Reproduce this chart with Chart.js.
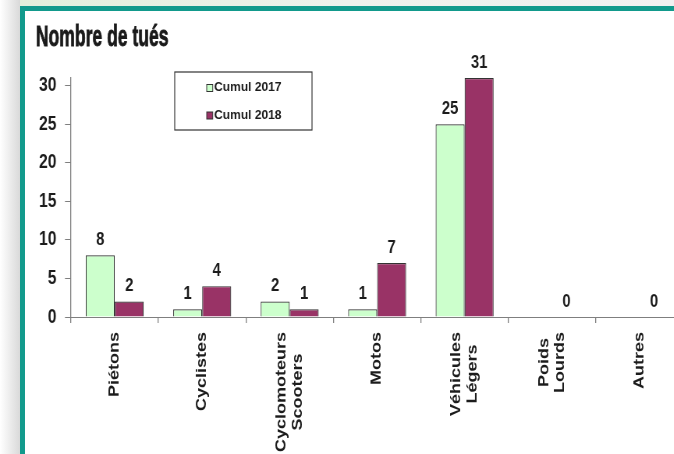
<!DOCTYPE html>
<html>
<head>
<meta charset="utf-8">
<script src="https://cdn.jsdelivr.net/npm/chart.js@4.4.0/dist/chart.umd.min.js"></script>
<style>
  html, body { margin: 0; padding: 0; width: 674px; height: 454px; overflow: hidden; background: #fff; }
  #page { position: relative; width: 674px; height: 454px; overflow: hidden; background: #fff; }
  #leftStrip { position: absolute; left: 0; top: 0; width: 20px; height: 454px;
               background: linear-gradient(to right, #ffffff, #d9d9d9); }
  #topStrip { position: absolute; left: 20px; top: 0; width: 654px; height: 6px;
              background: linear-gradient(to right, #e3efdc, #eef2ec 50%, #f1f1f1); }
  #frameTop { position: absolute; left: 20px; top: 6px; width: 654px; height: 5px; background: #129a8c; z-index: 2; }
  #frameLeft { position: absolute; left: 20px; top: 6px; width: 5px; height: 448px; background: #129a8c; z-index: 2; }
  #chartBox { position: absolute; left: 0; top: 0; width: 900px; height: 454px; transform-origin: 0 0; z-index: 1; }
</style>
</head>
<body>
<div id="page">
  <div id="leftStrip"></div>
  <div id="topStrip"></div>
  <div id="frameTop"></div>
  <div id="frameLeft"></div>
  <div id="chartBox"><canvas id="chart" width="900" height="454"></canvas></div>
</div>
<script>
// data
const categories = [['Piétons'], ['Cyclistes'], ['Cyclomoteurs', 'Scooters'], ['Motos'], ['Véhicules', 'Légers'], ['Poids', 'Lourds'], ['Autres']];
const cumul2017 = [8, 1, 2, 1, 25, null, null];
const cumul2018 = [2, 4, 1, 7, 31, 0, 0];
const seriesNames = ['Cumul 2017', 'Cumul 2018'];
const yTicks = [0, 5, 10, 15, 20, 25, 30];
const yMax = 31;
const chartTitle = 'Nombre de tués';

// the source picture is squeezed horizontally, so is the canvas
const SQUEEZE = 0.78;
document.getElementById('chartBox').style.transform = `scaleX(${SQUEEZE})`;

const FONT = '"Liberation Sans", Arial, sans-serif';
const TEXT = '#1c1c1c';

// condensed heavy title, drawn by hand since no narrow font is around
const titlePlugin = {
    id: 'titlePlugin',
    afterDraw(chart) {
        const ctx = chart.ctx;
        ctx.save();
        ctx.translate(46, 46);
        ctx.scale(0.75, 1);
        ctx.font = `bold 30px ${FONT}`;
        ctx.fillStyle = '#1a1a1a';
        ctx.strokeStyle = '#1a1a1a';
        ctx.lineWidth = 0.9;
        ctx.textAlign = 'left';
        ctx.textBaseline = 'alphabetic';
        ctx.fillText(chartTitle, 0, 0);
        ctx.strokeText(chartTitle, 0, 0);
        ctx.restore();
    }
};

const valueLabels = {
    id: 'valueLabels',
    afterDatasetsDraw(chart) {
        const ctx = chart.ctx;
        ctx.save();
        ctx.font = `bold 19px ${FONT}`;
        ctx.fillStyle = TEXT;
        ctx.textAlign = 'center';
        ctx.textBaseline = 'alphabetic';
        chart.data.datasets.forEach((ds, i) => {
            chart.getDatasetMeta(i).data.forEach((bar, j) => {
                if (ds.data[j] === null) return;
                ctx.fillText(String(ds.data[j]), bar.x, bar.y - 10.5);
            });
        });
        ctx.restore();
    }
};

// rotated category names, lines centred like the original
const categoryLabels = {
    id: 'categoryLabels',
    afterDraw(chart) {
        const ctx = chart.ctx;
        const xs = chart.scales.x;
        ctx.save();
        ctx.font = `bold 18px ${FONT}`;
        ctx.fillStyle = TEXT;
        ctx.textAlign = 'center';
        ctx.textBaseline = 'middle';
        categories.forEach((lines, i) => {
            const longest = Math.max(...lines.map(l => ctx.measureText(l).width));
            ctx.save();
            ctx.translate(xs.getPixelForValue(i), xs.bottom + 9 + longest / 2);
            ctx.rotate(-Math.PI / 2);
            lines.forEach((line, k) => {
                ctx.fillText(line, 0, (k - (lines.length - 1) / 2) * 20.5);
            });
            ctx.restore();
        });
        ctx.restore();
    }
};

// boxed legend sitting inside the plot
const boxLegend = {
    id: 'boxLegend',
    afterDraw(chart) {
        const ctx = chart.ctx;
        const left = chart.chartArea.left + 133;
        const top = chart.chartArea.top - 6;
        ctx.save();
        ctx.fillStyle = '#fff';
        ctx.fillRect(left, top, 176, 58);
        ctx.strokeStyle = '#333';
        ctx.lineWidth = 1.2;
        ctx.strokeRect(left, top, 176, 58);
        chart.data.datasets.forEach((ds, i) => {
            const cy = top + 16 + i * 27.5;
            ctx.fillStyle = ds.backgroundColor;
            ctx.fillRect(left + 41, cy - 3.5, 7.7, 7);
            ctx.lineWidth = 1;
            ctx.strokeStyle = '#333';
            ctx.strokeRect(left + 41, cy - 3.5, 7.7, 7);
            ctx.save();
            ctx.translate(left + 50.5, cy);
            ctx.scale(1 / SQUEEZE, 1);
            ctx.font = `bold 12px ${FONT}`;
            ctx.fillStyle = TEXT;
            ctx.textAlign = 'left';
            ctx.textBaseline = 'middle';
            ctx.fillText(ds.label, 0, 0);
            ctx.restore();
        });
        ctx.restore();
    }
};

new Chart(document.getElementById('chart'), {
    type: 'bar',
    data: {
        labels: categories,
        datasets: [
            {
                label: seriesNames[0],
                data: cumul2017,
                backgroundColor: '#ccffcc',
                borderColor: '#333333',
                borderWidth: 1.2,
                barPercentage: 1,
                categoryPercentage: 0.663
            },
            {
                label: seriesNames[1],
                data: cumul2018,
                backgroundColor: '#993366',
                borderColor: '#333333',
                borderWidth: 1.2,
                barPercentage: 1,
                categoryPercentage: 0.663
            }
        ]
    },
    options: {
        responsive: false,
        animation: false,
        devicePixelRatio: 1,
        layout: {
            padding: { left: 46, right: 24, top: 78, bottom: 131 }
        },
        plugins: {
            legend: { display: false },
            tooltip: { enabled: false },
            title: { display: false }
        },
        scales: {
            x: {
                offset: true,
                grid: { offset: true, drawOnChartArea: false, tickLength: 6, color: '#7f7f7f', lineWidth: 1.3 },
                border: { color: '#7f7f7f', width: 1 },
                ticks: { display: false }
            },
            y: {
                min: 0,
                max: yMax,
                afterBuildTicks: scale => {
                    scale.ticks = yTicks.map(v => ({ value: v }));
                },
                afterFit: scale => {
                    scale.width = 45;
                },
                grid: { drawOnChartArea: false, tickLength: 7.7, color: '#7f7f7f', lineWidth: 1 },
                border: { color: '#7f7f7f', width: 1.3 },
                ticks: {
                    padding: 11,
                    color: TEXT,
                    font: { family: FONT, size: 20, weight: 'bold' }
                }
            }
        }
    },
    plugins: [valueLabels, categoryLabels, boxLegend, titlePlugin]
});
</script>
</body>
</html>
